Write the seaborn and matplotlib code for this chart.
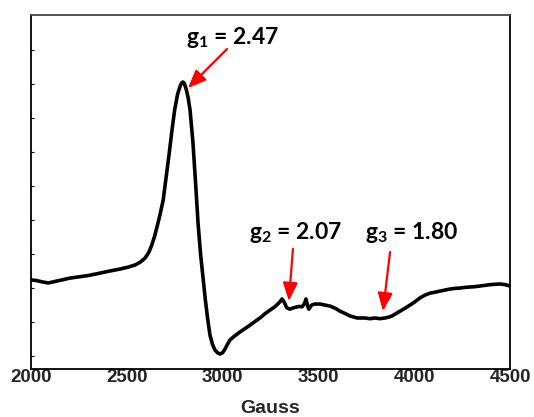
import matplotlib
matplotlib.use("Agg")
import matplotlib.pyplot as plt
import numpy as np
import pandas as pd
import seaborn as sns

# EPR spectrum (field in Gauss, intensity in arbitrary units)
gauss = [2000, 2030, 2060, 2090, 2130, 2170, 2200, 2250, 2300, 2360, 2410, 2465,
         2510, 2543, 2570, 2595, 2615, 2630, 2645, 2660, 2675, 2690, 2705, 2720,
         2736, 2750, 2765, 2778, 2786, 2793, 2800, 2810, 2820, 2830, 2845, 2860,
         2872, 2885, 2898, 2910, 2922, 2934, 2948, 2960, 2975, 2987, 3000, 3013,
         3025, 3038, 3060, 3091, 3120, 3143, 3170, 3195, 3220, 3247, 3275, 3300,
         3310, 3320, 3335, 3352, 3370, 3385, 3400, 3415, 3428, 3435, 3445, 3450,
         3465, 3480, 3509, 3535, 3561, 3590, 3613, 3640, 3665, 3702, 3743, 3770,
         3795, 3820, 3848, 3870, 3884, 3905, 3926, 3950, 3978, 4005, 4030, 4055,
         4082, 4110, 4134, 4160, 4186, 4212, 4238, 4265, 4290, 4315, 4343, 4370,
         4395, 4420, 4447, 4475, 4500]
signal = [2.24, 2.22, 2.18, 2.15, 2.2, 2.25, 2.29, 2.33, 2.37, 2.44, 2.5, 2.56,
          2.62, 2.68, 2.76, 2.88, 3.05, 3.26, 3.52, 3.85, 4.2, 4.59, 5.25, 5.9,
          6.65, 7.25, 7.7, 7.93, 8.03, 8.06, 8.02, 7.85, 7.6, 7.24, 6.3, 5.0,
          3.9, 3.0, 2.3, 1.65, 1.1, 0.62, 0.33, 0.18, 0.09, 0.06, 0.1, 0.21,
          0.34, 0.47, 0.58, 0.71, 0.82, 0.91, 1.02, 1.12, 1.24, 1.35, 1.46, 1.6,
          1.68, 1.6, 1.42, 1.38, 1.42, 1.44, 1.46, 1.45, 1.55, 1.68, 1.45, 1.38,
          1.5, 1.53, 1.53, 1.5, 1.47, 1.4, 1.32, 1.25, 1.18, 1.12, 1.12, 1.1,
          1.12, 1.1, 1.12, 1.15, 1.18, 1.25, 1.32, 1.4, 1.5, 1.6, 1.71, 1.79,
          1.85, 1.88, 1.91, 1.94, 1.97, 1.99, 2.0, 2.02, 2.03, 2.04, 2.06, 2.08,
          2.1, 2.11, 2.12, 2.1, 2.06]

# g-value labels and their red arrows (data coords)
g_labels = [r"g$_\mathbf{1}$ = 2.47", r"g$_\mathbf{2}$ = 2.07", r"g$_\mathbf{3}$ = 1.80"]
g_text = [(3054, 9.38), (3383, 3.62), (3989, 3.62)]
arrow_start = [(3023, 9.03), (3367, 3.15), (3874, 3.06)]
arrow_tip = [(2819, 7.88), (3346, 1.62), (3837, 1.32)]

x_ticks = [2000, 2500, 3000, 3500, 4000, 4500]

sns.set_theme(style="white")
plt.rcParams["font.family"] = ["Liberation Sans", "DejaVu Sans"]
plt.rcParams["mathtext.fontset"] = "custom"
plt.rcParams["mathtext.bf"] = "Lato:bold"

df = pd.DataFrame({"Gauss": gauss, "signal": signal})

fig, ax = plt.subplots(figsize=(5.34, 4.17), dpi=100)
fig.subplots_adjust(left=31 / 534, right=510 / 534, top=1 - 15 / 417, bottom=1 - 369 / 417)

sns.lineplot(data=df, x="Gauss", y="signal", color="black", linewidth=2.6, ax=ax)

ax.set_xlim(2000, 4500)
ax.set_ylim(-0.38, 10.03)
ax.set_xticks(x_ticks)
ax.set_xticklabels([str(t) for t in x_ticks], fontsize=13.5, fontweight="bold")
ax.set_yticks(np.arange(0, 10))
ax.set_yticklabels([])
ax.tick_params(axis="y", direction="in", length=2, width=0.8, left=True, colors="black")
ax.tick_params(axis="x", direction="in", length=0, pad=0)
ax.set_xlabel("Gauss", fontsize=14, fontweight="bold", labelpad=10)
ax.set_ylabel("")

for side in ["left", "right", "top", "bottom"]:
    ax.spines[side].set_color("black")
    ax.spines[side].set_linewidth(1.3)
ax.spines["top"].set_color("#444444")

for label, pos in zip(g_labels, g_text):
    ax.text(pos[0], pos[1], label, ha="center", va="center",
            fontsize=16.5, fontweight="bold", family="Lato", color="black")

for start, tip in zip(arrow_start, arrow_tip):
    ax.annotate("", xy=tip, xytext=start,
                arrowprops=dict(arrowstyle="-|>,head_length=1.1,head_width=0.45",
                                mutation_scale=10, color="red", lw=1.6,
                                shrinkA=0, shrinkB=0))

fig.savefig("out.png", dpi=100)
